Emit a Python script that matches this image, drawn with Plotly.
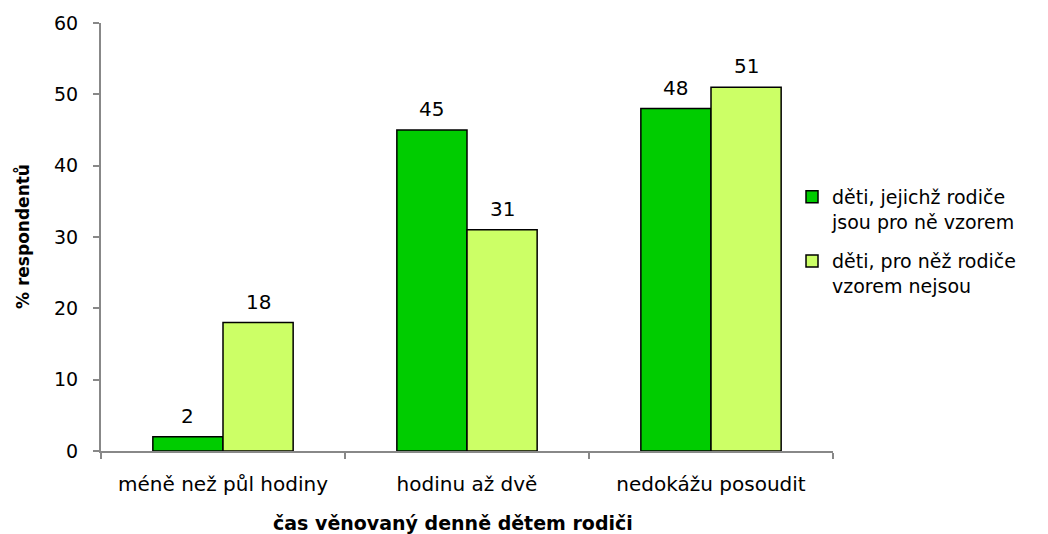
import plotly.graph_objects as go

categories = ["méně než půl hodiny", "hodinu až dvě", "nedokážu posoudit"]
series1_name = "děti, jejichž rodiče<br>jsou pro ně vzorem"
series1 = [2, 45, 48]
series2_name = "děti, pro něž rodiče<br>vzorem nejsou"
series2 = [18, 31, 51]
y_ticks = [0, 10, 20, 30, 40, 50, 60]
x_title = "čas věnovaný denně dětem rodiči"
y_title = "% respondentů"

font = "DejaVu Sans, Verdana, sans-serif"
BARGAP = 0.425
PLOT_W = 732

fig = go.Figure()
fig.add_trace(go.Bar(
    x=categories, y=series1, name=series1_name, legendgroup="a",
    marker=dict(color="#00CC00", line=dict(color="black", width=1.5)),
))
fig.add_trace(go.Bar(
    x=categories, y=series2, name=series2_name, legendgroup="b",
    marker=dict(color="#CCFF66", line=dict(color="black", width=1.5)),
))

# value labels above bars
bar_px = PLOT_W / len(categories) * (1 - BARGAP) / 2
annotations = []
for vals, sign in ((series1, -1), (series2, 1)):
    for cat, v in zip(categories, vals):
        annotations.append(dict(
            x=cat, y=v, xref="x", yref="y", text=str(v), showarrow=False,
            xanchor="center", yanchor="bottom", xshift=sign * bar_px / 2, yshift=7,
            font=dict(size=20, family=font, color="black"),
        ))
# axis titles
annotations.append(dict(
    x=0.481, y=0, xref="paper", yref="paper", text="<b>" + x_title + "</b>",
    showarrow=False, xanchor="center", yanchor="middle", yshift=-72,
    font=dict(size=19, family=font, color="black"),
))
annotations.append(dict(
    x=0, y=0.5, xref="paper", yref="paper", text="<b>" + y_title + "</b>",
    showarrow=False, xanchor="center", yanchor="middle", xshift=-79, textangle=-90,
    font=dict(size=17, family=font, color="black"),
))

fig.update_layout(
    width=1040, height=526,
    margin=dict(l=93, r=215, t=15, b=83),
    paper_bgcolor="white", plot_bgcolor="white",
    barmode="group", bargap=BARGAP, bargroupgap=0,
    font=dict(family=font, size=18, color="black"),
    showlegend=True,
    legend=dict(x=0.944, xanchor="left", y=0.49, yanchor="middle",
                font=dict(size=19, family=font), tracegroupgap=12, valign="top",
                bgcolor="rgba(0,0,0,0)"),
    annotations=annotations,
)
fig.update_xaxes(
    automargin=False,
    showline=True, linecolor="#888888", linewidth=2,
    ticks="outside", tickson="boundaries", tickcolor="#888888", ticklen=6, tickwidth=2,
    tickfont=dict(size=20, family=font), ticklabelstandoff=14,
)
fig.update_yaxes(
    automargin=False,
    range=[0, 60], tickvals=y_ticks, showgrid=False, zeroline=False,
    showline=True, linecolor="#888888", linewidth=2,
    ticks="outside", tickcolor="#888888", ticklen=6, tickwidth=2,
    tickfont=dict(size=19, family=font), ticklabelstandoff=11,
)

fig.write_html("out.html")
